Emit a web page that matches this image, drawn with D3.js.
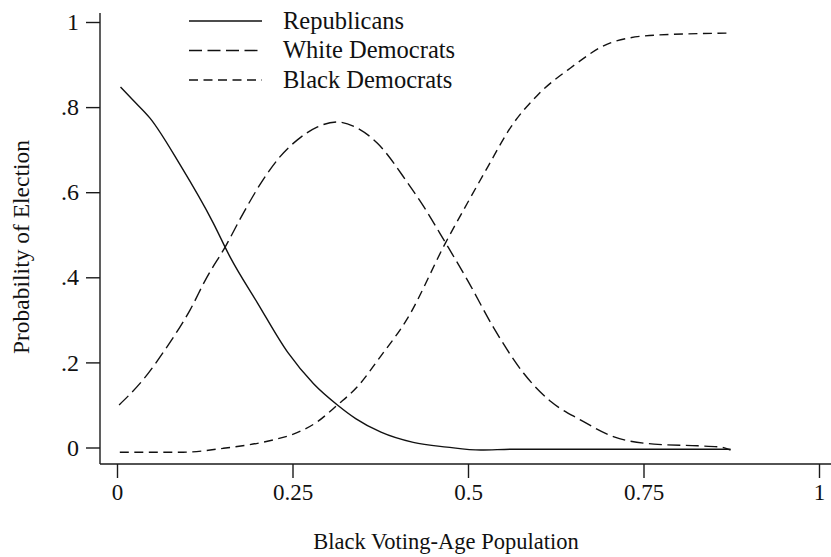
<!DOCTYPE html>
<html>
<head>
<meta charset="utf-8">
<script src="https://cdn.jsdelivr.net/npm/d3@7"></script>
<style>
  html, body { margin: 0; padding: 0; background: #fff; }
  svg { display: block; }
  text { font-family: "Liberation Serif", "Times New Roman", serif; fill: #111; }
</style>
</head>
<body>
<svg id="chart" width="831" height="557"></svg>
<script>
// Predicted probability of election by share of Black voting-age population
const repX = [0.005, 0.023, 0.047, 0.090, 0.137, 0.161, 0.200, 0.243, 0.280, 0.314, 0.340, 0.376, 0.422, 0.470, 0.518, 0.565, 0.660, 0.874];
const repY = [0.847, 0.816, 0.774, 0.664, 0.528, 0.448, 0.340, 0.224, 0.150, 0.100, 0.068, 0.036, 0.012, 0.001, -0.006, -0.004, -0.004, -0.004];

const whiteX = [0.003, 0.037, 0.071, 0.104, 0.128, 0.154, 0.180, 0.208, 0.232, 0.257, 0.285, 0.314, 0.342, 0.371, 0.414, 0.437, 0.468, 0.499, 0.536, 0.579, 0.618, 0.660, 0.708, 0.765, 0.827, 0.860, 0.874];
const whiteY = [0.100, 0.159, 0.236, 0.323, 0.400, 0.471, 0.551, 0.629, 0.683, 0.723, 0.753, 0.765, 0.751, 0.715, 0.622, 0.566, 0.481, 0.394, 0.283, 0.175, 0.108, 0.065, 0.025, 0.008, 0.004, 0.001, -0.006];

const blackX = [0.004, 0.094, 0.151, 0.223, 0.247, 0.285, 0.314, 0.342, 0.375, 0.414, 0.468, 0.499, 0.528, 0.561, 0.599, 0.646, 0.703, 0.765, 0.874];
const blackY = [-0.011, -0.011, -0.002, 0.018, 0.029, 0.060, 0.100, 0.142, 0.213, 0.304, 0.481, 0.574, 0.659, 0.753, 0.828, 0.892, 0.951, 0.969, 0.974];

const seriesNames = ["Republicans", "White Democrats", "Black Democrats"];
const xTicks = [0, 0.25, 0.5, 0.75, 1];
const xTickLabels = ["0", "0.25", "0.5", "0.75", "1"];
const yTicks = [0, 0.2, 0.4, 0.6, 0.8, 1];
const yTickLabels = ["0", ".2", ".4", ".6", ".8", "1"];

const series = [
  { name: seriesNames[0], xs: repX, ys: repY, dash: null },
  { name: seriesNames[1], xs: whiteX, ys: whiteY, dash: "13,5.5" },
  { name: seriesNames[2], xs: blackX, ys: blackY, dash: "9,5.5" }
];

const svg = d3.select("#chart");
const x = d3.scaleLinear().domain([0, 1]).range([117, 819]);
const y = d3.scaleLinear().domain([0, 1]).range([447.5, 22]);

const axisX0 = 100;   // left edge of the plot frame
const axisY0 = 464;   // bottom edge of the plot frame
const ink = "#1a1a1a";

// axis lines
svg.append("line").attr("x1", axisX0).attr("x2", axisX0).attr("y1", 13).attr("y2", axisY0)
  .attr("stroke", ink).attr("stroke-width", 1.4);
svg.append("line").attr("x1", axisX0).attr("x2", 831).attr("y1", axisY0).attr("y2", axisY0)
  .attr("stroke", ink).attr("stroke-width", 1.4);

// y axis ticks and labels
const yAxis = d3.axisLeft(y).tickValues(yTicks).tickSize(14).tickPadding(7)
  .tickFormat((d, i) => yTickLabels[i]);
const gy = svg.append("g").attr("transform", `translate(${axisX0},0)`).call(yAxis);
gy.select(".domain").remove();
gy.selectAll(".tick line").attr("stroke", ink).attr("stroke-width", 1.4);
gy.selectAll(".tick text").attr("font-size", 24).attr("font-family", "Liberation Serif").attr("fill", "#111");

// x axis ticks and labels
const xAxis = d3.axisBottom(x).tickValues(xTicks).tickSize(14).tickPadding(6)
  .tickFormat((d, i) => xTickLabels[i]);
const gx = svg.append("g").attr("transform", `translate(0,${axisY0})`).call(xAxis);
gx.select(".domain").remove();
gx.selectAll(".tick line").attr("stroke", ink).attr("stroke-width", 1.4);
gx.selectAll(".tick text").attr("font-size", 23).attr("font-family", "Liberation Serif").attr("fill", "#111");

// axis titles
svg.append("text")
  .attr("x", 446).attr("y", 549)
  .attr("text-anchor", "middle").attr("font-size", 22.5)
  .text("Black Voting-Age Population");
svg.append("text")
  .attr("transform", "translate(29,247) rotate(-90)")
  .attr("text-anchor", "middle").attr("font-size", 23.5)
  .text("Probability of Election");

// curves
const line = d3.line().x(d => x(d[0])).y(d => y(d[1])).curve(d3.curveMonotoneX);
series.forEach(s => {
  const pts = s.xs.map((v, i) => [v, s.ys[i]]);
  svg.append("path")
    .datum(pts)
    .attr("d", line)
    .attr("fill", "none")
    .attr("stroke", "#111")
    .attr("stroke-width", 1.4)
    .attr("stroke-dasharray", s.dash);
});

// legend
const legend = svg.append("g");
series.forEach((s, i) => {
  const ly = 21 + i * 29.5;
  legend.append("line")
    .attr("x1", 189).attr("x2", 262).attr("y1", ly).attr("y2", ly)
    .attr("stroke", "#111").attr("stroke-width", 1.4)
    .attr("stroke-dasharray", s.dash);
  legend.append("text")
    .attr("x", 283).attr("y", ly + 7.5)
    .attr("font-size", 24.5)
    .text(s.name);
});
</script>
</body>
</html>
